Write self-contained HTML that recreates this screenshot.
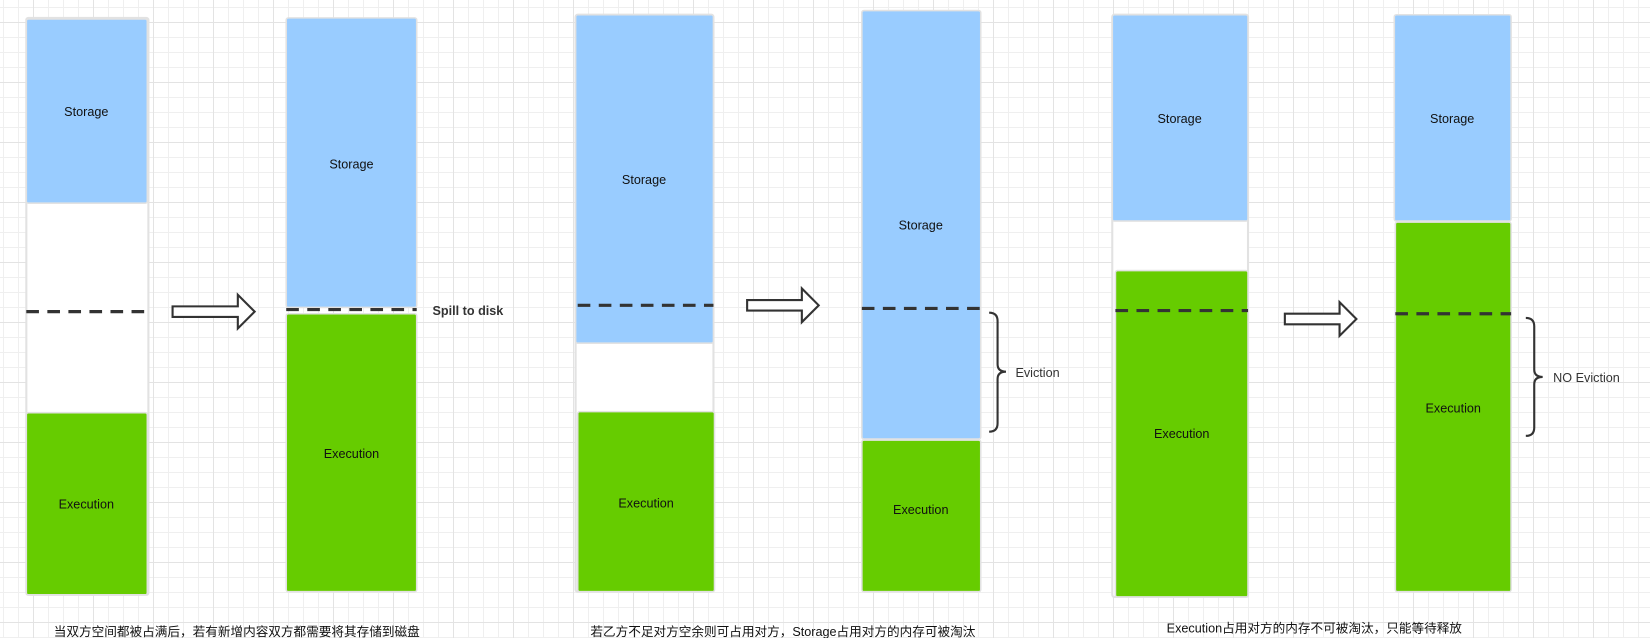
<!DOCTYPE html>
<html><head><meta charset="utf-8"><style>
html,body{margin:0;padding:0;width:1650px;height:638px;overflow:hidden;background:#fff}
#g{position:absolute;left:0;top:0;width:1650px;height:638px;
background-image:
linear-gradient(to right,#e3e3e3 1px,transparent 1px),
linear-gradient(to bottom,#e3e3e3 1px,transparent 1px),
linear-gradient(to right,#efefef 1px,transparent 1px),
linear-gradient(to bottom,#efefef 1px,transparent 1px);
background-size:60px 60px,60px 60px,15px 15px,15px 15px;
background-position:33px 0,0 22px,3px 0,0 7px}
svg{position:absolute;left:0;top:0}
text{font-family:"Liberation Sans","Noto Sans CJK SC",sans-serif;font-size:12px;fill:#111}
</style></head><body><div id="g"></div>
<svg width="1650" height="638" viewBox="0 0 1568 606" preserveAspectRatio="none">
<g stroke="#e2e2e2" stroke-width="2">
<rect x="25" y="17" width="116" height="548" rx="2" fill="#fff"/>
<rect x="547" y="14" width="131" height="548" rx="2" fill="#fff"/>
<rect x="1057" y="14" width="129" height="553" rx="2" fill="#fff"/>
</g>
<g stroke="#e2e2e2" stroke-width="1.5">
<rect x="25" y="18" width="115" height="175" rx="2" fill="#99ccff"/>
<rect x="25" y="392" width="115" height="173" rx="2" fill="#66cc00"/>
<rect x="272" y="17" width="124" height="275" rx="2" fill="#99ccff"/>
<rect x="272" y="298" width="124" height="264" rx="2" fill="#66cc00"/>
<rect x="547" y="14" width="131" height="312" rx="2" fill="#99ccff"/>
<rect x="549" y="391" width="130" height="171" rx="2" fill="#66cc00"/>
<rect x="819" y="10" width="113" height="407" rx="2" fill="#99ccff"/>
<rect x="819" y="418" width="113" height="144" rx="2" fill="#66cc00"/>
<rect x="1057" y="14" width="129" height="196" rx="2" fill="#99ccff"/>
<rect x="1060" y="257" width="126" height="310" rx="2" fill="#66cc00"/>
<rect x="1325" y="14" width="111" height="196" rx="2" fill="#99ccff"/>
<rect x="1326" y="211" width="110" height="351" rx="2" fill="#66cc00"/>
</g>
<g stroke="#333" stroke-width="3" stroke-dasharray="12,8">
<line x1="25" y1="296" x2="140" y2="296"/>
<line x1="272" y1="294" x2="396" y2="294"/>
<line x1="549" y1="290" x2="678" y2="290"/>
<line x1="819" y1="293" x2="932" y2="293"/>
<line x1="1060" y1="295" x2="1186" y2="295"/>
<line x1="1326" y1="298" x2="1436" y2="298"/>
</g>
<g fill="#fff" stroke="#333" stroke-width="2">
<path d="M164 291 H226 V280 L242 296 L226 312 V301 H164 Z"/>
<path d="M710 285 H762 V274 L778 290 L762 306 V295 H710 Z"/>
<path d="M1221 298 H1273 V287 L1289 303 L1273 319 V308 H1221 Z"/>
</g>
<g fill="none" stroke="#333" stroke-width="2">
<path d="M940 297 Q948 297 948 305 V346 Q948 353 956 353 Q948 353 948 360 V402 Q948 410 940 410"/>
<path d="M1450 302 Q1458 302 1458 310 V351 Q1458 358 1466 358 Q1458 358 1458 365 V406 Q1458 414 1450 414"/>
</g>
<g text-anchor="middle">
<text x="82" y="110">Storage</text>
<text x="334" y="160">Storage</text>
<text x="612" y="175">Storage</text>
<text x="875" y="218">Storage</text>
<text x="1121" y="117">Storage</text>
<text x="1380" y="117">Storage</text>
<text x="82" y="483">Execution</text>
<text x="334" y="435">Execution</text>
<text x="614" y="482">Execution</text>
<text x="875" y="488">Execution</text>
<text x="1123" y="416">Execution</text>
<text x="1381" y="392">Execution</text>
</g>
<text x="411" y="299" style="font-weight:bold;font-size:12px;fill:#333">Spill to disk</text>
<text x="965" y="358" style="fill:#333">Eviction</text>
<text x="1476" y="363" style="fill:#333">NO Eviction</text>
<g text-anchor="middle" style="font-size:12px">
<text x="225" y="604">当双方空间都被占满后，若有新增内容双方都需要将其存储到磁盘</text>
<text x="744" y="604">若乙方不足对方空余则可占用对方，Storage占用对方的内存可被淘汰</text>
<text x="1249" y="601">Execution占用对方的内存不可被淘汰，只能等待释放</text>
</g>
</svg>
</body></html>
